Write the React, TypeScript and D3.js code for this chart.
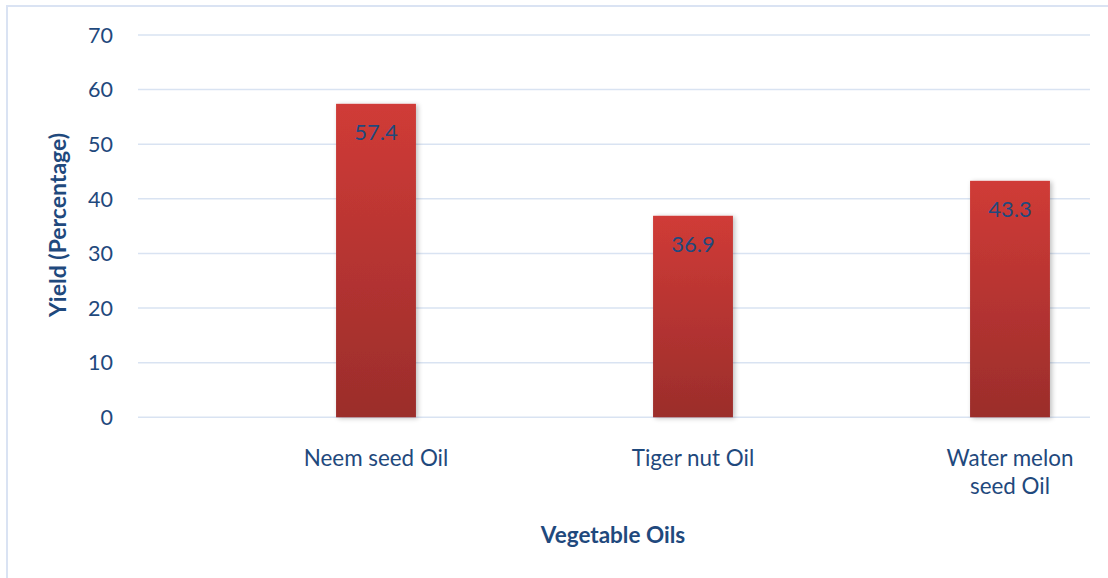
import React from "react";
import * as d3 from "d3";

const categories: string[][] = [["Neem seed Oil"], ["Tiger nut Oil"], ["Water melon", "seed Oil"]];
const yields: number[] = [57.4, 36.9, 43.3];
const yTicks: number[] = [0, 10, 20, 30, 40, 50, 60, 70];
const yTitle = "Yield (Percentage)";
const xTitle = "Vegetable Oils";

const W = 1108;
const H = 578;
const TEXT = "#1f497d";
const GRID = "#d9e3f2";
const FONT = "Lato, 'Open Sans', sans-serif";

export default function App() {
  const keys = categories.map((c) => c.join(" "));
  const x = d3
    .scaleBand<string>()
    .domain(keys)
    .range([217.5, 1168.5])
    .paddingInner(0.748)
    .paddingOuter(0.374);
  const y = d3.scaleLinear().domain([0, 70]).range([417.3, 35]);
  const gridX0 = 138;
  const gridX1 = 1090;

  return (
    <svg
      width={W}
      height={H}
      style={{ position: "fixed", left: 0, top: 0, background: "#fff" }}
      fontFamily={FONT}
    >
      <defs>
        <linearGradient id="barFill" x1="0" y1="0" x2="0" y2="1">
          <stop offset="0%" stopColor="#d03b37" />
          <stop offset="100%" stopColor="#9b2d2b" />
        </linearGradient>
        <filter id="barShadow" x="-20%" y="-5%" width="140%" height="110%">
          <feGaussianBlur in="SourceAlpha" stdDeviation="2.5" />
          <feOffset dx="2" dy="1" result="b" />
          <feComponentTransfer>
            <feFuncA type="linear" slope="0.25" />
          </feComponentTransfer>
          <feMerge>
            <feMergeNode />
            <feMergeNode in="SourceGraphic" />
          </feMerge>
        </filter>
      </defs>

      {/* chart frame */}
      <rect x={7} y={6} width={W + 20} height={H + 20} fill="none" stroke="#dae3f3" strokeWidth={2} />

      {/* gridlines and tick labels */}
      {yTicks.map((t) => (
        <g key={t}>
          <line x1={gridX0} x2={gridX1} y1={y(t)} y2={y(t)} stroke={GRID} strokeWidth={1.5} />
          <text x={113} y={y(t)} dy="0.36em" textAnchor="end" fontSize={21.5} fill={TEXT}>
            {t}
          </text>
        </g>
      ))}

      {/* bars */}
      {yields.map((v, i) => (
        <g key={keys[i]}>
          <rect
            x={x(keys[i])}
            y={y(v)}
            width={x.bandwidth()}
            height={y(0) - y(v)}
            fill="url(#barFill)"
            filter="url(#barShadow)"
          />
          <text
            x={(x(keys[i]) as number) + x.bandwidth() / 2}
            y={y(v) + 36}
            textAnchor="middle"
            fontSize={22}
            fill={TEXT}
          >
            {v.toFixed(1)}
          </text>
        </g>
      ))}

      {/* category labels */}
      {categories.map((lines, i) => (
        <text
          key={keys[i]}
          x={(x(keys[i]) as number) + x.bandwidth() / 2}
          y={466}
          textAnchor="middle"
          fontSize={22.4}
          fill={TEXT}
        >
          {lines.map((l, j) => (
            <tspan key={j} x={(x(keys[i]) as number) + x.bandwidth() / 2} dy={j === 0 ? 0 : 28}>
              {l}
            </tspan>
          ))}
        </text>
      ))}

      {/* axis titles */}
      <text
        transform={`translate(66,225) rotate(-90)`}
        textAnchor="middle"
        fontSize={23}
        fontWeight="bold"
        fill={TEXT}
      >
        {yTitle}
      </text>
      <text x={613} y={543} textAnchor="middle" fontSize={22.5} fontWeight="bold" fill={TEXT}>
        {xTitle}
      </text>
    </svg>
  );
}
